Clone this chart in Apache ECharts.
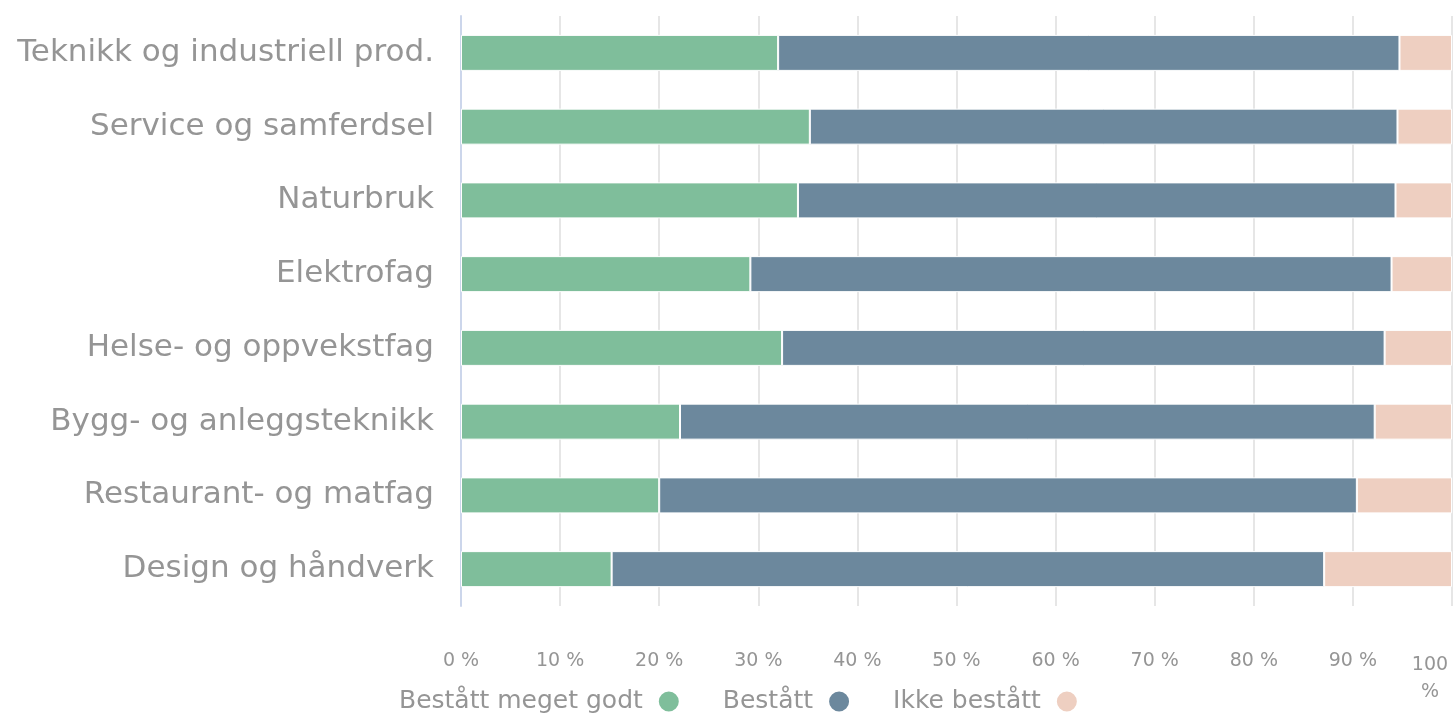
<!DOCTYPE html>
<html>
<head>
<meta charset="utf-8">
<script src="https://cdn.jsdelivr.net/npm/echarts@6/dist/echarts.min.js"></script>
<style>html,body{margin:0;padding:0;background:#fff}#c{width:1455px;height:713px}</style>
</head>
<body>
<div id="c"></div>
<script>
var categories = ["Teknikk og industriell prod.", "Service og samferdsel", "Naturbruk", "Elektrofag", "Helse- og oppvekstfag", "Bygg- og anleggsteknikk", "Restaurant- og matfag", "Design og håndverk"];
var seriesNames = ["Bestått meget godt", "Bestått", "Ikke bestått"];
var megetGodt = [32.0, 35.2, 34.0, 29.2, 32.4, 22.1, 20.0, 15.2];
var bestatt = [62.7, 59.3, 60.3, 64.7, 60.8, 70.1, 70.4, 71.9];
var ikkeBestatt = [5.3, 5.5, 5.7, 6.1, 6.8, 7.8, 9.6, 12.9];
var xTicks = [0, 10, 20, 30, 40, 50, 60, 70, 80, 90, 100];

var colors = ["#7fbe9b", "#6c889d", "#eecfc1"];
var FONT = 'DejaVu Sans';
var TXT = '#959595';
var chart = echarts.init(document.getElementById('c'));
function mk(name, data, i) {
  return {
    name: name, type: 'bar', stack: 'total', data: data, barWidth: 36,
    itemStyle: { color: colors[i], borderColor: '#ffffff', borderWidth: 1 },
    emphasis: { disabled: true }
  };
}
chart.setOption({
  animation: false,
  grid: { left: 461, width: 994, top: 16, bottom: 107, containLabel: false },
  legend: {
    top: 684, left: 394, align: 'right', icon: 'circle',
    itemWidth: 22, itemHeight: 22, itemGap: 42,
    textStyle: { fontFamily: FONT, fontSize: 25, color: TXT, padding: [0, 10, 0, 0] },
    data: seriesNames
  },
  xAxis: {
    type: 'value', min: xTicks[0], max: xTicks[xTicks.length - 1], interval: 10,
    axisLine: { show: false }, axisTick: { show: false },
    splitLine: { show: true, lineStyle: { color: '#e6e6e6', width: 2 } },
    axisLabel: {
      margin: 46, alignMaxLabel: 'right',
      fontFamily: FONT, fontSize: 19, color: TXT,
      formatter: function (v) { return v === 100 ? '{a|100}\n{a|%}' : v + ' %'; },
      rich: { a: { width: 44, align: 'center', fontFamily: FONT, fontSize: 19, color: TXT, lineHeight: 27 } }
    }
  },
  yAxis: {
    type: 'category', data: categories, inverse: true,
    axisLine: { show: true, lineStyle: { color: '#ccd6eb', width: 2 } },
    axisTick: { show: false },
    axisLabel: { margin: 27, fontFamily: FONT, fontSize: 31, color: TXT }
  },
  series: [mk(seriesNames[0], megetGodt, 0), mk(seriesNames[1], bestatt, 1), mk(seriesNames[2], ikkeBestatt, 2)]
});
</script>
</body>
</html>
